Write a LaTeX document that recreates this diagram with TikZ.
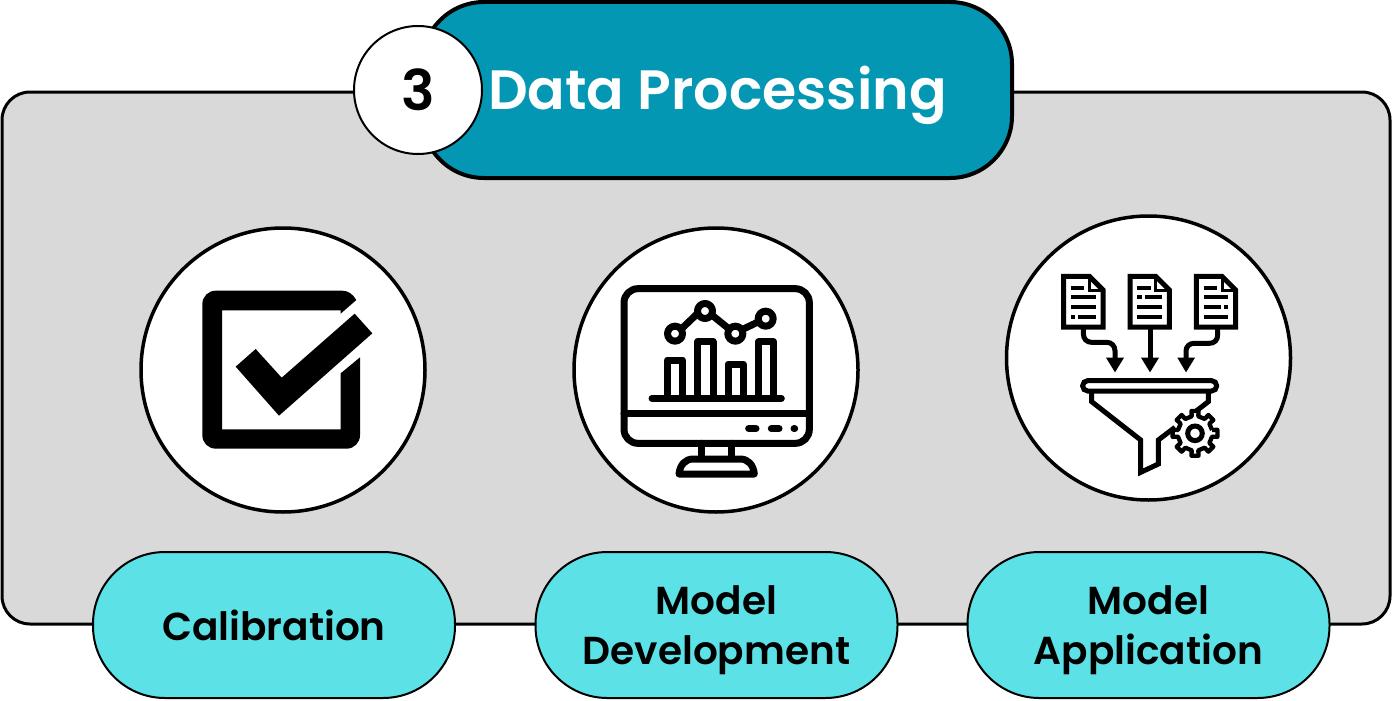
\documentclass[tikz,border=0pt]{standalone}
\usepackage{fontspec}
\setmainfont{Poppins}[BoldFont={Poppins SemiBold}]
\definecolor{panelgray}{HTML}{D9D9D9}
\definecolor{headerteal}{HTML}{0397B3}
\definecolor{pillcyan}{HTML}{5CE1E6}
\tikzset{
  panelbox/.style={draw=black,fill=panelgray,line width=3pt,rounded corners=28pt,minimum width=1388pt,minimum height=532pt,inner sep=0pt},
  headerbox/.style={draw=black,fill=headerteal,line width=4pt,rounded corners=62pt,minimum width=590pt,minimum height=176pt,inner sep=0pt},
  numdisc/.style={circle,draw=black,fill=white,line width=2pt,minimum size=128pt,inner sep=0pt},
  numtext/.style={inner sep=0pt,font=\fontsize{56}{56}\selectfont\bfseries},
  icondisc/.style={circle,draw=black,fill=white,line width=3.5pt,minimum size=284pt,inner sep=0pt},
  pill/.style={draw=black,fill=pillcyan,line width=2pt,rounded corners=72pt,minimum width=362pt,minimum height=146pt,inner sep=0pt},
  pilltext/.style={inner sep=0pt,align=center,font=\fontsize{39}{50}\selectfont\bfseries},
  icon/.style={line width=7pt,line cap=round,line join=round},
  thin icon/.style={line width=5pt,line join=miter},
  docline/.style={line width=3.7pt}
}
\begin{document}
\begin{tikzpicture}[x=1pt,y=-1pt]
\useasboundingbox (0,0) rectangle (1392,701);
\node[panelbox] (panel) at (696,358) {};
\node[headerbox] (header) at (717,90) {};
\node[anchor=west,text=white,inner sep=0pt,font=\fontsize{55.4}{56}\selectfont\bfseries] (title) at (488,95) {Data Processing};
\node[numdisc] (num) at (418,90) {};
\node[numtext] (numlabel) at (418,90) {3};
\node[icondisc] (disc1) at (283,370) {};
\node[icondisc] (disc2) at (716,370) {};
\node[icondisc] (disc3) at (1148.5,358) {};
\node[pill] (pill1) at (274,625) {};
\node[pill] (pill2) at (716.5,625) {};
\node[pill] (pill3) at (1148.5,625) {};
\node[pilltext] (label1) at (274,625) {Calibration};
\node[pilltext] (label2) at (716.5,630) {Model\\Development};
\node[pilltext] (label3) at (1148.5,630) {Model\\Application};
% check icon
\begin{scope}[shift={(180,270)},x=1/3*1pt,y=-1/3*1pt]
\fill (529,90) .. controls (518,72) and (505,62) .. (485,62) -- (107,62)
  .. controls (85,62) and (67,80) .. (67,102) -- (67,496)
  .. controls (67,518) and (85,536) .. (107,536) -- (500,536)
  .. controls (522,536) and (540,518) .. (540,496) -- (540,262) -- (482,310)
  -- (482,478) -- (126,478) -- (126,121) -- (482,121) -- (482,131) -- cycle;
\fill (167,290) -- (227,237) -- (305,323) -- (524,131) -- (577,190) -- (297,437) -- cycle;
\end{scope}
% monitor icon
\begin{scope}[shift={(600,270)},x=1/3*1pt,y=-1/3*1pt,icon]
\draw[rounded corners=14pt] (72,56) rectangle (628,520);
\draw (72,430) -- (628,430);
\draw (305,520) -- (305,565);
\draw (395,520) -- (395,565);
\draw (237,612) .. controls (240,585) and (255,567) .. (280,567) -- (420,567)
  .. controls (445,567) and (460,585) .. (463,612) -- cycle;
\draw (446,476) -- (468,476);
\draw (514,476) -- (537,476);
\draw (582,476) -- (584,476);
\draw (156,385) -- (544,385);
\draw (202,385) -- (202,270) -- (248,270) -- (248,385);
\draw (293,385) -- (293,215) -- (339,215) -- (339,385);
\draw (384,385) -- (384,282) -- (430,282) -- (430,385);
\draw (476,385) -- (476,215) -- (520,215) -- (520,385);
\draw (225,191) circle (7.5pt);
\draw (315,123) circle (7.5pt);
\draw (406,191) circle (7.5pt);
\draw (497,146) circle (7.5pt);
\draw (246,175) -- (293,130);
\draw (338,137) -- (385,175);
\draw (430,177) -- (472,157);
\end{scope}
% funnel icon
\begin{scope}[shift={(1050,265)},x=1/3*1pt,y=-1/3*1pt,thin icon]
\foreach \dx in {0,199,398}{
  \draw[shift={(\dx,0)}] (41,34) -- (118,34) -- (159,75) -- (159,186) -- (41,186) -- cycle;
  \draw[shift={(\dx,0)},line width=3pt] (118,34) -- (118,75) -- (159,75);
}
\draw[docline] (63,69)--(103,69) (63,97)--(137,97) (63,126)--(137,126) (63,155)--(75,155) (85,155)--(137,155);
\draw[docline] (262,69)--(302,69) (262,97)--(275,97) (285,97)--(336,97) (262,126)--(336,126) (262,155)--(336,155);
\draw[docline] (461,69)--(501,69) (461,97)--(535,97) (461,126)--(512,126) (522,126)--(535,126) (461,155)--(535,155);
\draw (100,192) -- (100,205) .. controls (100,222) and (110,232) .. (125,232) -- (170,232) .. controls (185,232) and (195,243) .. (195,258) -- (195,285);
\fill (168,278) -- (222,278) -- (195,322) -- cycle;
\draw (300,192) -- (300,285);
\fill (273,278) -- (327,278) -- (300,322) -- cycle;
\draw (503,192) -- (503,210) .. controls (503,225) and (493,235) .. (478,235) -- (432,235) .. controls (418,235) and (408,245) .. (408,258) -- (408,285);
\fill (382,278) -- (435,278) -- (408,322) -- cycle;
\draw[rounded corners=5pt] (98,347) rectangle (500,378);
\draw (125,380) -- (125,410) -- (272,525) -- (272,622) -- (325,597) -- (325,525) -- (375,487);
\draw (475,380) -- (475,410) -- (440,437);
\draw (435,505) circle (7.3pt);
\draw[line width=4.3pt,line join=round] ([shift={(435,505)}]-11:52)
  \foreach \a in {0,45,...,315}{ -- ([shift={(435,505)}]\a-11:52) -- ([shift={(435,505)}]\a-9:68) -- ([shift={(435,505)}]\a+9:68) -- ([shift={(435,505)}]\a+11:52) -- ([shift={(435,505)}]\a+34:52)} ;
\end{scope}
\end{tikzpicture}
\end{document}
